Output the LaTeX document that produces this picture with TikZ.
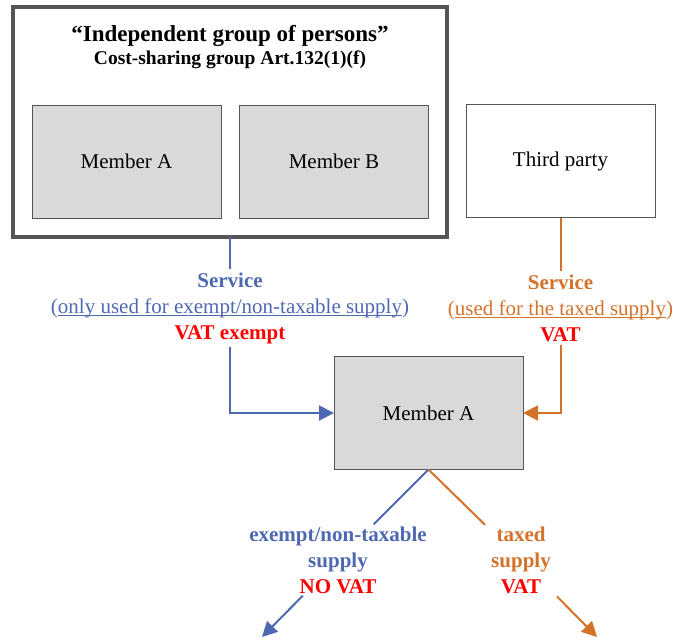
\documentclass[tikz,border=0pt]{standalone}
\usepackage{fontspec}
\setmainfont{Liberation Serif}
\usetikzlibrary{arrows.meta,positioning,calc}
\definecolor{vatBlue}{HTML}{4E68B2}
\definecolor{vatOrange}{HTML}{D4722A}
\definecolor{vatRed}{HTML}{FF0000}
\definecolor{vatGrey}{HTML}{D9D9D9}
\definecolor{vatFrame}{HTML}{555555}
\newcommand{\vatuline}[1]{\setbox0\hbox{#1}\rlap{\rule[-2.5pt]{\wd0}{1pt}}\box0}

\begin{document}
\begin{tikzpicture}[x=1pt,y=-1pt,>={Triangle[length=15pt,width=15pt]},
  memberbox/.style={draw=vatFrame,fill=vatGrey,line width=.8pt,minimum width=189pt,minimum height=113pt,outer sep=0pt,font=\fontsize{21}{25}\selectfont},
  flowlabel/.style={align=center,inner sep=3pt,font=\fontsize{21}{26}\selectfont},
  blueline/.style={draw=vatBlue,line width=2pt},
  orangeline/.style={draw=vatOrange,line width=2pt}]
\useasboundingbox (0,0) rectangle (675,641);
% cost-sharing group
\node[draw=vatFrame,line width=3.5pt,minimum width=434pt,minimum height=230pt,outer sep=0pt] (grp) at (230,122) {};
\node[font=\fontsize{23}{27}\selectfont\bfseries] (title) at (230,36) {“Independent group of persons”};
\node[font=\fontsize{19.5}{23}\selectfont\bfseries] (subtitle) at (230,60) {Cost-sharing group Art.132(1)(f)};
\node[memberbox] (gA) at (126.5,161.5) {Member A};
\node[memberbox] (gB) at (334,161.5) {Member B};
\node[memberbox,fill=white] (third) at (560.5,161) {Third party};
\node[memberbox] (mA) at (428.5,413) {Member A};
% services
\node[flowlabel] (svcB) at (230,308) {\color{vatBlue}\textbf{Service}\\\color{vatBlue}(\vatuline{only used for exempt/non-taxable supply})\\\color{vatRed}\textbf{VAT exempt}};
\node[flowlabel] (svcO) at (560.5,308) {\color{vatOrange}\textbf{Service}\\\color{vatOrange}(\vatuline{used for the taxed supply})\\\color{vatRed}\textbf{VAT}};
\draw[blueline] (grp.south) -- (svcB.north);
\draw[blueline,->] (svcB.south) |- (mA.west);
\draw[orangeline] (third.south) -- (svcO.north);
\draw[orangeline,->] (svcO.south) |- (mA.east);
% supplies
\coordinate (outB) at (262,637);
\coordinate (outO) at (597,637);
\node[flowlabel,inner sep=2pt] (supB) at (338,560) {\color{vatBlue}\textbf{exempt/non-taxable}\\\color{vatBlue}\textbf{supply}\\\color{vatRed}\textbf{NO VAT}};
\node[flowlabel,inner sep=6pt] (supO) at (521,560) {\color{vatOrange}\textbf{taxed}\\\color{vatOrange}\textbf{supply}\\\color{vatRed}\textbf{VAT}};
\draw[blueline] (mA.south) -- (supB);
\draw[blueline,->] (supB) -- (outB);
\draw[orangeline] (mA.south) -- (supO);
\draw[orangeline,->] (supO) -- (outO);
\end{tikzpicture}
\end{document}
